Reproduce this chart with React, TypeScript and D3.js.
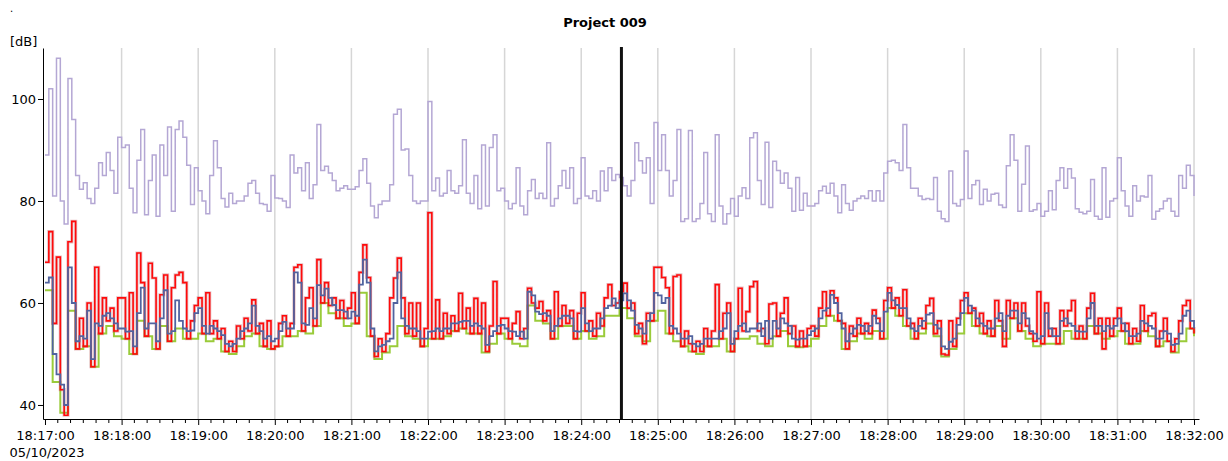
import { useEffect, useRef } from "react";
import * as d3 from "d3";

const WIDTH = 1228;
const HEIGHT = 461;
const PLOT = { left: 43, right: 1199, top: 48, bottom: 419 };

const TITLE = "Project 009";
const Y_UNIT = "[dB]";
const DATE_LABEL = "05/10/2023";
const START = Date.UTC(2023, 9, 5, 18, 17, 0);
const CURSOR_SEC = 451.5;
const STEP = 3; // seconds between samples
const GREEN_STEP = 6;
const Y_TICKS = [40, 60, 80, 100];

// upper trace (peak level), 3 s steps
const peakLevel = [
  89, 102, 81, 108, 80, 75.5, 104, 96, 85, 82.3, 83.6, 80.5, 79.5, 82.5, 87.5, 85, 89.5, 86, 81.5, 92.5,
  90.5, 91, 82.5, 77.7, 88, 94, 77.3, 84, 89, 77, 91, 85, 94.5, 78, 94, 95.7, 92.5, 87, 79.3, 86.5,
  82, 80, 77.5, 85, 91.8, 86.5, 80.5, 78.8, 81.5, 79.5, 80, 80, 81, 83.5, 84, 81.5, 79.5, 79.3, 78, 85,
  80.6, 80.5, 80, 78.7, 89, 85.5, 86.5, 82, 87.5, 80.5, 83.2, 95, 86, 86.8, 85.5, 84, 82, 82.5, 83, 82.3,
  82.3, 82.8, 86, 88.3, 83.5, 79, 76.7, 79.3, 80, 80, 83.2, 97, 98, 90, 90.2, 85, 80, 79.5, 80, 80,
  99.5, 82, 84.5, 81, 81.5, 86, 82, 81.5, 83, 92, 81.5, 79.5, 85, 78.5, 91, 79, 90.5, 93, 82, 82.5,
  80, 78.5, 79.5, 86.5, 79, 77.3, 82, 84.2, 80.5, 81.5, 80.5, 91.4, 79, 80.5, 83, 86, 82.5, 86.5, 79.5, 80.5,
  88.5, 81, 80.5, 82, 80, 85.9, 82, 86.5, 84, 85.2, 84.6, 83, 81, 84, 91.4, 87.9, 85.5, 88.5, 79.5, 95.4,
  86, 93, 86, 81, 84, 94, 76, 76.5, 93.8, 76, 76.5, 79.5, 89.5, 77.5, 76, 93, 79, 75.5, 77.5, 80.5,
  77, 81, 82.6, 80.5, 92.4, 93.4, 84, 79.3, 91.5, 78.7, 87.8, 86, 83.5, 85.5, 82.5, 78, 84.6, 78.2, 81.5, 79,
  79, 79.5, 82, 82.9, 81.5, 83.5, 81, 77.7, 83.2, 79.5, 78.2, 80, 80.5, 81, 80.5, 82, 80, 82, 80, 85.5,
  87.8, 88, 87.5, 86, 95, 86.5, 82.5, 82.5, 81, 80.3, 80.5, 80.3, 84.6, 78, 76.5, 76, 85.9, 79.5, 79, 80.3,
  89.8, 80.5, 83.2, 84, 79.3, 82.3, 80, 81.3, 81.5, 79.2, 78.7, 86.9, 93, 88, 78, 83.3, 90.8, 78, 78.3, 79.5,
  77, 78, 82, 78.3, 84, 86.5, 82.5, 86.3, 84.5, 78.5, 77.8, 77.5, 78, 84.2, 77, 76.4, 86.5, 76.8, 80, 80.5,
  88.5, 82, 79, 77, 83, 80, 81, 80.8, 85, 76.4, 78, 78.5, 80, 80.5, 78, 77, 85, 82.5, 87, 85,
  81,
];

// fast level, 3 s steps
const fastLevel = [
  68, 74, 56, 69, 43, 38, 72, 76, 51, 57, 51.5, 60, 47.5, 67, 54, 61, 56.5, 59, 54.5, 61,
  61, 53, 62, 50, 69.8, 64, 53.5, 67.8, 64.9, 51, 61.6, 65.5, 52.5, 63, 65.5, 66, 64, 53, 56.5, 59.5,
  61, 54, 62, 54, 56.5, 53, 55, 50.5, 52.5, 50.5, 55.5, 53, 57, 54.5, 60.6, 54, 56, 51.5, 56.5, 51,
  51.5, 56, 57.5, 53.5, 56, 67, 67.5, 54.5, 61, 63, 55.5, 68.5, 60, 64, 59.5, 61, 57, 60.5, 57, 59,
  62, 56, 66, 71.4, 65, 53.5, 49.5, 53, 50.5, 54, 61, 64.9, 68.8, 61, 54, 60, 53.5, 60, 51.5, 55,
  77.7, 53, 60.6, 53, 58, 54, 57.5, 54.5, 61.9, 55, 59, 54, 60.9, 54, 60, 50.5, 55.5, 64.2, 54, 57,
  57, 53, 56, 58.3, 53, 55, 62.9, 60, 59, 60.3, 56.5, 58.5, 53, 62.2, 55.5, 59.5, 56, 58.5, 53, 58,
  62, 54.5, 56.5, 53.5, 58, 55.5, 61, 63.6, 59.5, 60, 62.2, 63.9, 59, 60, 54, 56, 52, 58, 56.5, 67,
  67, 65, 63, 54, 65.2, 65.5, 51.5, 54.5, 52, 50.5, 52.5, 50.5, 55, 51.5, 54.5, 63.6, 53, 58, 60, 50.5,
  53, 62.9, 54.5, 58.3, 63.2, 64.2, 54.5, 55, 52, 59.8, 60, 53.5, 58, 61, 54, 55.5, 51.5, 54.5, 51.5, 55,
  55.5, 53.5, 59, 62.2, 57.5, 62.4, 61, 56.5, 56, 51, 55.5, 53.5, 57, 54, 56, 54, 58.6, 57, 53, 60.5,
  63, 59, 61, 57.5, 62.6, 55.5, 56, 53, 57, 55, 59.5, 60.9, 54, 56.5, 50, 49.8, 56.5, 51.5, 57, 60.5,
  62, 58, 59, 55.5, 58, 54, 56.5, 53.5, 60.5, 56.5, 51.5, 60.5, 57, 60, 54.5, 60, 55.5, 54, 52.5, 62.2,
  52, 60, 53.5, 55, 52, 58.5, 55.5, 58.5, 60.5, 53, 55.5, 53, 59, 61.9, 54, 57, 51, 57, 53.5, 57,
  59, 54.5, 56, 52, 55, 52.5, 59.5, 54.5, 57.5, 58, 51.5, 54.5, 57, 52.5, 50.5, 53, 56.5, 59.5, 60.5, 55,
  54,
];

// equivalent level, 3 s steps
const eqLevel = [
  64, 65, 50, 46, 44, 40, 67, 60, 52.5, 53.5, 53, 58.5, 49, 56, 55.5, 57.5, 58, 57, 56, 55,
  55, 54.4, 54.5, 51.5, 58, 63, 55, 56, 56, 52.5, 57, 62.5, 54, 54.5, 60.5, 56.5, 55, 54.5, 54.6, 58,
  59, 55.5, 54, 55.5, 55, 54.5, 53.7, 52, 51.5, 52, 53, 54.5, 55, 56, 59.5, 55.5, 54.5, 53, 53.5, 52.5,
  53, 54.5, 56.3, 55, 55, 66, 64, 56, 55.7, 59, 57, 63.5, 61.5, 62.8, 61, 59.6, 58.6, 58.6, 58.3, 57,
  58.3, 57.5, 63.6, 68.5, 64, 55, 50.5, 51.5, 51.8, 52.5, 53, 60, 66, 57, 55.5, 55, 55, 54.5, 53, 53,
  54.4, 54.5, 55, 54.5, 55, 55, 56, 56, 56.3, 56.5, 56.5, 55.5, 56, 55.5, 55, 51.8, 53.5, 54.5, 55.5, 55.7,
  55, 54.5, 54.4, 53.5, 54.4, 53, 62.2, 61.5, 58.3, 57.8, 58, 57.5, 54.5, 55.5, 57, 57.5, 57.5, 57, 54.5, 54.4,
  59, 56, 54.5, 55, 55, 57, 59, 59.5, 60.9, 59, 60.5, 61.9, 60.5, 58.5, 55.7, 55, 54, 56.5, 58, 62,
  61.5, 60, 61, 55.5, 55, 54, 53, 53, 53.5, 52, 51.5, 52, 53, 53, 53, 53, 54.5, 55, 58, 52,
  54.5, 55.5, 56, 54.4, 55, 55, 56, 53.5, 56.5, 53, 56.5, 55, 57, 56, 55.5, 53, 52.8, 53, 53, 53.7,
  54.5, 55, 57, 58.5, 59, 61.6, 60, 58, 55, 52.5, 54, 55, 55.7, 55.5, 54.5, 55.5, 57.5, 56, 54.5, 58.3,
  62, 60.5, 59.6, 59, 59, 57, 55, 54.5, 55.5, 56.5, 57.7, 58, 55.7, 55, 51.5, 51, 52.4, 53, 55.7, 58,
  61, 59.5, 58.5, 57, 56, 55.5, 55, 55, 57, 58, 54.5, 57.5, 58.5, 58.5, 56, 58, 57, 54.5, 54, 53,
  53.5, 58, 55, 53.5, 53.5, 56.5, 57, 56, 55.5, 54.5, 54.4, 54.4, 57, 60, 55.5, 55.5, 54.5, 55.5, 55, 55.5,
  57, 56, 54.5, 53.5, 53.5, 54, 56.5, 56, 55.5, 55, 53, 53, 54.5, 54, 51.8, 52, 54, 57.5, 58.5, 56.5,
  55,
];

// minimum level, 6 s steps
const minLevel = [
  62.5, 44.5, 38.5, 58.5, 51, 51.5, 47.5, 54, 55.5, 53.5,
  53, 50, 56.5, 53.5, 51, 55.5, 52.5, 55, 53, 53,
  54, 52.5, 53, 50.5, 50, 51.5, 53.5, 54, 51.5, 51,
  51.5, 53.5, 53.5, 54.5, 54, 55.5, 60, 58, 57, 55.5,
  56, 62, 53.5, 49, 50.3, 51.5, 55.5, 53.5, 53, 51.5,
  53, 53, 53.5, 54.5, 55, 54, 54, 50.3, 52, 54,
  53, 52, 51.5, 59.5, 56.5, 56, 53, 55.5, 55.5, 53,
  54.5, 53, 53.5, 57.5, 57.5, 59, 57, 53.5, 52.5, 56.5,
  58.5, 54, 52.5, 51.5, 50.5, 50, 51.5, 51.5, 53, 50.5,
  53, 53, 53.5, 52, 51.5, 53.5, 54.5, 51.5, 51.3, 51.5,
  53, 55.5, 57.5, 56.5, 51, 52.5, 54, 53, 54.5, 53,
  59, 57.5, 55.5, 53, 54, 56, 53.5, 49.5, 51, 54,
  58, 55.5, 54, 53.5, 55.5, 53, 57, 54.5, 53, 51.5,
  52, 52, 52, 54.5, 53, 53, 55.5, 54, 53, 53.5,
  54.5, 52, 52, 54.5, 53.5, 51.5, 52.5, 50.3, 52.5, 55,
  53.5,
];

type Pt = { t: Date; v: number };
const toSeries = (vals: number[], step: number): Pt[] =>
  vals.map((v, i) => ({ t: new Date(START + i * step * 1000), v }));

export default function App() {
  const svgRef = useRef<SVGSVGElement>(null);

  useEffect(() => {
    if (!svgRef.current) return;
    const svg = d3.select(svgRef.current);
    svg.selectAll("*").remove();

    const x = d3
      .scaleUtc()
      .domain([new Date(START - 1566), new Date(START + 903900)])
      .range([PLOT.left, PLOT.right]);
    const y = d3.scaleLinear().domain([37.25, 110]).range([PLOT.bottom, PLOT.top]);

    const font = "Verdana, 'DejaVu Sans', sans-serif";

    // Title & labels
    svg
      .append("text")
      .attr("x", 10)
      .attr("y", 12)
      .attr("font-size", 10)
      .attr("font-family", font)
      .text(".");
    svg
      .append("text")
      .attr("x", 605)
      .attr("y", 27)
      .attr("text-anchor", "middle")
      .attr("font-size", 13)
      .attr("font-weight", "bold")
      .attr("font-family", font)
      .text(TITLE);
    svg
      .append("text")
      .attr("x", 10)
      .attr("y", 46)
      .attr("font-size", 13)
      .attr("font-family", font)
      .text(Y_UNIT);

    // Vertical grid
    const minutes = d3.utcMinute.every(1)!.range(new Date(START + 60000), new Date(START + 900001));
    svg
      .append("g")
      .selectAll("line")
      .data(minutes)
      .join("line")
      .attr("x1", (d) => x(d))
      .attr("x2", (d) => x(d))
      .attr("y1", PLOT.top)
      .attr("y2", PLOT.bottom)
      .attr("stroke", "#d6d6d6")
      .attr("stroke-width", 1.5);

    const plot = svg.append("g");
    const line = d3
      .line<Pt>()
      .x((d) => x(d.t))
      .y((d) => y(d.v))
      .curve(d3.curveStepAfter);

    plot
      .append("path")
      .datum(toSeries(peakLevel, STEP))
      .attr("d", line)
      .attr("fill", "none")
      .attr("stroke", "#b4a7d4")
      .attr("stroke-width", 1.5);

    plot
      .append("path")
      .datum(toSeries(minLevel, GREEN_STEP))
      .attr("d", line)
      .attr("fill", "none")
      .attr("stroke", "#9acb3a")
      .attr("stroke-width", 2);

    const fast = toSeries(fastLevel, STEP);
    plot
      .append("path")
      .datum(fast)
      .attr("d", line)
      .attr("fill", "none")
      .attr("stroke", "#bb4a56")
      .attr("stroke-opacity", 0.35)
      .attr("stroke-width", 3.2);
    plot
      .append("path")
      .datum(fast)
      .attr("d", line)
      .attr("fill", "none")
      .attr("stroke", "#ff0a0a")
      .attr("stroke-width", 1.6);

    plot
      .append("path")
      .datum(toSeries(eqLevel, STEP))
      .attr("d", line)
      .attr("fill", "none")
      .attr("stroke", "#51639f")
      .attr("stroke-width", 1.8);

    // Cursor
    const cx = x(new Date(START + CURSOR_SEC * 1000));
    svg
      .append("line")
      .attr("x1", cx)
      .attr("x2", cx)
      .attr("y1", PLOT.top - 1)
      .attr("y2", PLOT.bottom)
      .attr("stroke", "#111")
      .attr("stroke-width", 3);

    // Axes
    const xAxis = svg
      .append("g")
      .attr("transform", `translate(0,${PLOT.bottom})`)
      .call(
        d3
          .axisBottom(x)
          .ticks(d3.utcMinute.every(1))
          .tickFormat((d) => d3.utcFormat("%H:%M:%S")(d as Date))
          .tickSize(6)
          .tickPadding(6)
          .tickSizeOuter(0),
      );
    xAxis.selectAll("text").attr("font-size", 13).attr("font-family", font).attr("fill", "#000");
    xAxis.selectAll("line").attr("stroke", "#000");
    xAxis.select(".domain").attr("stroke", "#000");

    const minor = d3.utcSecond
      .every(10)!
      .range(new Date(START), new Date(START + 900001))
      .filter((d) => d.getUTCSeconds() !== 0);
    svg
      .append("g")
      .selectAll("line")
      .data(minor)
      .join("line")
      .attr("x1", (d) => x(d))
      .attr("x2", (d) => x(d))
      .attr("y1", PLOT.bottom)
      .attr("y2", PLOT.bottom + 4)
      .attr("stroke", "#000");

    svg
      .append("text")
      .attr("x", x(new Date(START)) + 2)
      .attr("y", 457)
      .attr("text-anchor", "middle")
      .attr("font-size", 13)
      .attr("font-family", font)
      .text(DATE_LABEL);

    const yAxis = svg
      .append("g")
      .attr("transform", `translate(${PLOT.left},0)`)
      .call(d3.axisLeft(y).tickValues(Y_TICKS).tickSize(5).tickPadding(2).tickSizeOuter(0));
    yAxis.selectAll("text").attr("font-size", 13).attr("font-family", font).attr("fill", "#000");
    yAxis.selectAll("line").attr("stroke", "#000");
    yAxis.select(".domain").attr("stroke", "#000");
  }, []);

  return (
    <svg
      ref={svgRef}
      width={WIDTH}
      height={HEIGHT}
      style={{ position: "absolute", left: 0, top: 0, background: "#fff" }}
    />
  );
}
